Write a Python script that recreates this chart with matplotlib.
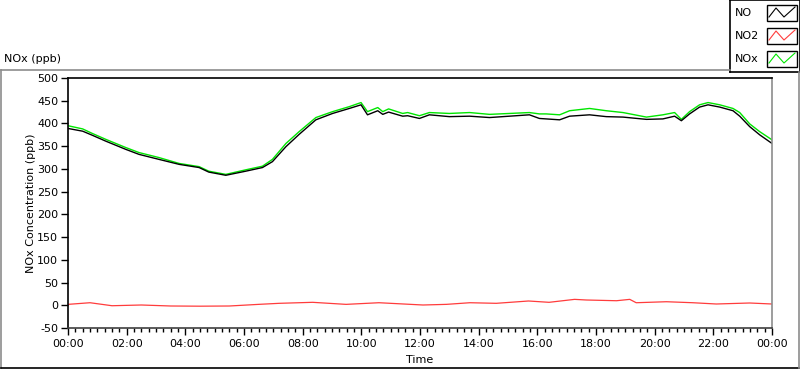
import matplotlib.pyplot as plt
from matplotlib.lines import Line2D
from matplotlib.patches import Rectangle

# time in hours after midnight
t = [0, 0.5, 0.83, 1.29, 1.97, 2.42, 3.1, 3.79, 4.47, 4.8,
     5.38, 6.06, 6.63, 6.97, 7.43, 7.88, 8.45, 9.02, 9.59, 9.99,
     10.21, 10.56, 10.73, 10.93, 11.41, 11.58, 11.98, 12.32, 13.0, 13.69,
     14.37, 15.05, 15.73, 16.07, 16.3, 16.76, 17.1, 17.78, 18.35, 18.92,
     19.72, 20.28, 20.68, 20.91, 21.19, 21.53, 21.82, 22.22, 22.67, 22.9,
     23.24, 23.58, 24.0]
nox = [395, 388, 378, 365, 347, 336, 325, 312, 305, 295,
       288, 298, 306, 321, 356, 382, 413, 426, 437, 446,
       426, 435, 426, 432, 422, 424, 417, 424, 422, 424,
       420, 422, 424, 421, 421, 419, 428, 433, 428, 424,
       414, 419, 424, 409, 426, 441, 446, 441, 433, 424,
       399, 382, 364]
no = [389, 383, 374, 361, 343, 332, 321, 310, 303, 293,
      286, 295, 303, 316, 349, 376, 408, 422, 433, 441,
      419, 428, 420, 425, 416, 417, 411, 419, 415, 416,
      413, 416, 419, 411, 410, 408, 416, 419, 415, 414,
      409, 410, 416, 406, 421, 436, 441, 436, 428, 416,
      393, 375, 356]

t2 = [0, 0.75, 1.5, 2.5, 3.5, 4.5, 5.5, 6.5, 7.2, 8.34,
      9.48, 10.6, 12.1, 12.9, 13.7, 14.6, 15.7, 16.4, 17.27, 17.67,
      18.7, 19.15, 19.37, 20.4, 21.3, 22.1, 23.24, 24.0]
no2 = [2, 5.6, -1, 0.6, -1.6, -2, -1.6, 2, 4.3, 6.5,
       2, 5.6, 0.6, 2, 5.6, 4.3, 9.4, 6.5, 13, 11.6,
       10, 13, 5.6, 7.8, 5.6, 2.8, 5, 2.8]

names = ["NO", "NO2", "NOx"]
colors = ["black", "#ff3c3c", "#00e600"]
xticks = list(range(0, 25, 2))
xlabels = ["%02d:00" % (h % 24) for h in xticks]
yticks = list(range(-50, 501, 50))

W, H = 800, 369
fig = plt.figure(figsize=(8, 3.69), dpi=100)

def fx(px):
    return px / W

def fy(py):
    return 1 - py / H

# outer panel frame
fig.add_artist(Line2D([fx(1), fx(730)], [fy(69.5), fy(69.5)], color="#8c8c8c", lw=1.2))
fig.add_artist(Line2D([fx(1), fx(1)], [fy(69.5), fy(368)], color="#8c8c8c", lw=1.2))
fig.add_artist(Line2D([fx(1), fx(799)], [fy(367.5), fy(367.5)], color="black", lw=1.2))
fig.add_artist(Line2D([fx(799), fx(799)], [fy(72), fy(368)], color="#8c8c8c", lw=1.2))

fig.text(fx(4), fy(59), "NOx (ppb)", fontsize=8, va="center", ha="left")

ax = fig.add_axes([fx(68), fy(328), fx(772 - 68), (328 - 78) / H])
ax.plot(t2, no2, color=colors[1], lw=0.9)
ax.plot(t, nox, color=colors[2], lw=1.0)
ax.plot(t, no, color=colors[0], lw=1.0)

ax.set_xlim(0, 24)
ax.set_ylim(-50, 500)
ax.set_xticks(xticks)
ax.set_xticklabels(xlabels, fontsize=8)
ax.set_xticks([i * 0.25 for i in range(97)], minor=True)
ax.set_yticks(yticks)
ax.set_yticklabels([str(v) for v in yticks], fontsize=8)
ax.tick_params(axis="x", which="major", length=5, width=1, pad=3)
ax.tick_params(axis="x", which="minor", length=3, width=1)
ax.tick_params(axis="y", length=5, width=1, pad=2)
ax.set_xlabel("Time", fontsize=8, labelpad=4)
ax.set_ylabel("NOx Concentration (ppb)", fontsize=8, labelpad=1)
ax.spines["left"].set_color("black")
ax.spines["top"].set_color("black")
ax.spines["bottom"].set_color("#404040")
ax.spines["right"].set_color("#8c8c8c")
for s in ax.spines.values():
    s.set_linewidth(1.2)

# legend box in the top right corner
lg = fig.add_axes([fx(730), fy(72), fx(70), 72 / H])
lg.set_xlim(730, 800)
lg.set_ylim(72, 0)
lg.set_xticks([])
lg.set_yticks([])
for s in lg.spines.values():
    s.set_color("black")
    s.set_linewidth(1.2)
rows = [13, 36, 59]
for name, c, yc in zip(names, colors, rows):
    lg.text(735, yc, name, fontsize=8, va="center", ha="left")
    lg.add_patch(Rectangle((767, yc - 8), 30, 16, facecolor="white",
                           edgecolor="black", lw=1.0))
    lg.plot([769, 776, 784, 795], [yc + 4, yc - 5, yc + 4, yc - 6], color=c, lw=0.8)

fig.savefig("out.png", dpi=100)
